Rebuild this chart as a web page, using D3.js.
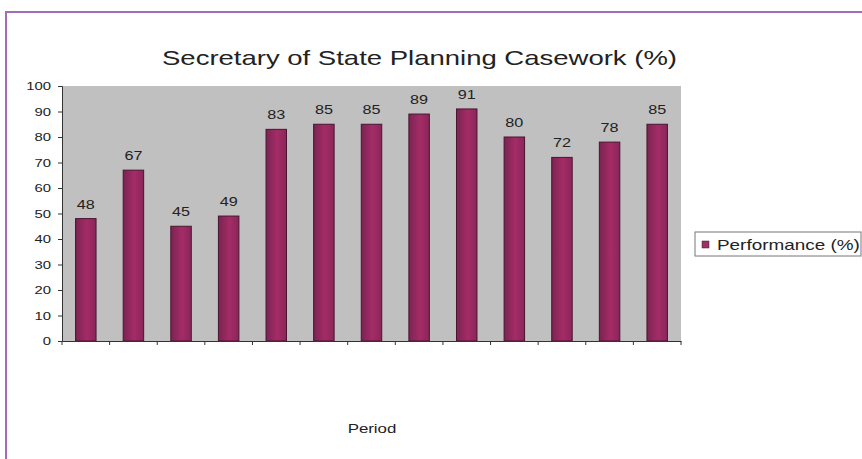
<!DOCTYPE html>
<html>
<head>
<meta charset="utf-8">
<script src="https://cdn.jsdelivr.net/npm/d3@7"></script>
<style>
  body { margin: 0; background: #fff; }
  text { font-family: Arial, "Liberation Sans", sans-serif; fill: #222; }
</style>
</head>
<body>
<script>
// Secretary of State Planning Casework chart

// data
var periods = ['P1', 'P2', 'P3', 'P4', 'P5', 'P6', 'P7', 'P8', 'P9', 'P10', 'P11', 'P12', 'P13'];
var performance = [48, 67, 45, 49, 83, 85, 85, 89, 91, 80, 72, 78, 85];
var yTicks = [0, 10, 20, 30, 40, 50, 60, 70, 80, 90, 100];
var seriesName = 'Performance (%)';
var chartTitle = 'Secretary of State Planning Casework (%)';
var xTitle = 'Period';

var W = 862, H = 459;
var SX = 1.35; // the source picture is stretched sideways

var svg = d3.select('body').append('svg')
  .attr('width', W)
  .attr('height', H);

// outer purple frame (runs off right & bottom)
svg.append('rect')
  .attr('x', 6).attr('y', 12)
  .attr('width', W + 10).attr('height', H + 10)
  .attr('fill', 'none')
  .attr('stroke', '#a46cb8')
  .attr('stroke-width', 2);

var plot = { left: 62, right: 681, top: 86, bottom: 341 };

var x = d3.scaleBand()
  .domain(periods)
  .range([plot.left, plot.right])
  .padding(0);

var y = d3.scaleLinear()
  .domain([0, 100])
  .range([plot.bottom, plot.top]);

// stretched text helper
function stretched(sel, px, py, size, anchor) {
  return sel.attr('transform', 'translate(' + px + ',' + py + ') scale(' + SX + ',1)')
    .style('font-size', size + 'px')
    .attr('text-anchor', anchor || 'middle');
}

// plot background
svg.append('rect')
  .attr('x', plot.left).attr('y', y(100))
  .attr('width', plot.right - plot.left)
  .attr('height', y(0) - y(100))
  .attr('fill', '#c0c0c0');

// bar gradient
var grad = svg.append('defs').append('linearGradient')
  .attr('id', 'barGrad')
  .attr('x1', '0%').attr('x2', '100%').attr('y1', '0%').attr('y2', '0%');
grad.append('stop').attr('offset', '0%').attr('stop-color', '#7a2452');
grad.append('stop').attr('offset', '55%').attr('stop-color', '#a52c66');
grad.append('stop').attr('offset', '100%').attr('stop-color', '#88265a');

var barW = x.bandwidth() * 0.43;

svg.selectAll('.bar')
  .data(performance)
  .enter().append('rect')
  .attr('class', 'bar')
  .attr('x', function(d, i) { return x(periods[i]) + (x.bandwidth() - barW) / 2; })
  .attr('y', function(d) { return y(d); })
  .attr('width', barW)
  .attr('height', function(d) { return y(0) - y(d); })
  .attr('fill', 'url(#barGrad)')
  .attr('stroke', '#4a1430')
  .attr('stroke-width', 1);

// data labels
svg.selectAll('.val')
  .data(performance)
  .enter().append('text')
  .attr('class', 'val')
  .each(function(d, i) {
    stretched(d3.select(this), x(periods[i]) + x.bandwidth() / 2, y(d) - 10, 12);
  })
  .text(function(d) { return d; });

// y axis
var yAxis = svg.append('g')
  .attr('transform', 'translate(' + plot.left + ',0)')
  .call(d3.axisLeft(y).tickValues(yTicks).tickSize(4).tickFormat(''));
yAxis.select('.domain').attr('stroke', '#333');
yAxis.selectAll('.tick line').attr('stroke', '#333');

svg.selectAll('.ylab')
  .data(yTicks)
  .enter().append('text')
  .attr('class', 'ylab')
  .each(function(d) {
    stretched(d3.select(this), 51, y(d) + 4, 11, 'end');
  })
  .text(function(d) { return d; });

// x axis: ticks at category boundaries, no labels
var xAxis = svg.append('g')
  .attr('transform', 'translate(0,' + plot.bottom + ')')
  .call(d3.axisBottom(x).tickSize(0).tickFormat(''));
xAxis.select('.domain').attr('stroke', '#333');
xAxis.selectAll('.bound')
  .data(periods.concat(['end']))
  .enter().append('line')
  .attr('class', 'bound')
  .attr('x1', function(d, i) { return plot.left + i * x.step(); })
  .attr('x2', function(d, i) { return plot.left + i * x.step(); })
  .attr('y1', 0).attr('y2', 4)
  .attr('stroke', '#333');

// title
svg.append('text')
  .attr('x', 419.5).attr('y', 65)
  .attr('text-anchor', 'middle')
  .attr('textLength', 515)
  .attr('lengthAdjust', 'spacingAndGlyphs')
  .style('font-size', '21px')
  .text(chartTitle);

// x axis title
stretched(svg.append('text'), 372, 433, 12.5).text(xTitle);

// legend
var legend = svg.append('g');
legend.append('rect')
  .attr('x', 695).attr('y', 232)
  .attr('width', 166).attr('height', 24)
  .attr('fill', '#fff')
  .attr('stroke', '#777');
legend.append('rect')
  .attr('x', 702).attr('y', 241)
  .attr('width', 7).attr('height', 7)
  .attr('fill', '#993366')
  .attr('stroke', '#4a1430')
  .attr('stroke-width', 0.5);
stretched(legend.append('text'), 717, 249.5, 14, 'start').text(seriesName);
</script>
</body>
</html>
